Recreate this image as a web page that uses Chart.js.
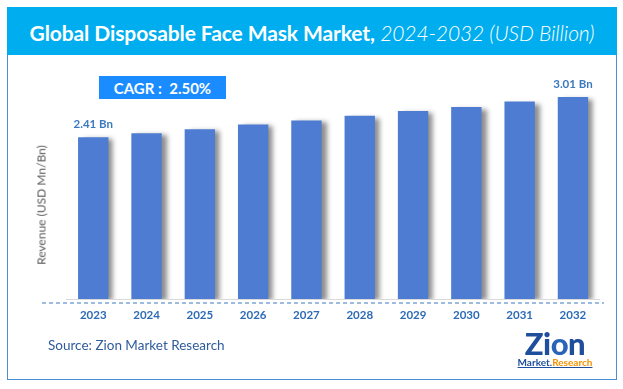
<!DOCTYPE html>
<html>
<head>
<meta charset="utf-8">
<script src="https://cdn.jsdelivr.net/npm/chart.js@4/dist/chart.umd.min.js"></script>
<style>
  body { margin: 0; background: #fff; font-family: Lato, "Open Sans", sans-serif; }
  #page { position: relative; width: 623px; height: 389px; overflow: hidden; }
  #frame { position: absolute; left: 7px; top: 7px; width: 610px; height: 373px; box-sizing: border-box; border: 1.5px solid #4a8fd6; }
  #title { position: absolute; left: 7px; top: 7px; width: 610px; height: 48px; background: #00aeef; color: #fff;
           text-align: center; font-size: 21px; line-height: 52px; white-space: nowrap; letter-spacing: -0.1px; }
  #title b { font-weight: 700; }
  #title i { font-weight: 300; }
  #cagr { position: absolute; left: 99px; top: 76px; width: 127px; height: 23px; background: #1a8cff; color: #fff;
          font-weight: 700; font-size: 15px; line-height: 24px; text-align: center; white-space: pre; }
  #ytitle { position: absolute; left: 41px; top: 205px; transform: translate(-50%, -50%) rotate(-90deg);
            font-size: 12px; color: #595959; white-space: nowrap; }
  #source { position: absolute; left: 48px; top: 337px; font-size: 13.5px; color: #2f5b9c; white-space: nowrap; }
  #logo { position: absolute; left: 516px; top: 329px; width: 78px; text-align: center; }
  #logo .zion { font-size: 31px; font-weight: 900; color: #1f4e9c; line-height: 28px; letter-spacing: -0.5px; }
  #logo .zion .o { color: #2a64b8; }
  #logo .mr { font-size: 10px; font-weight: 700; line-height: 11px; color: #1f4e9c; text-decoration: underline; }
  #logo .mr span { color: #f39200; }
  canvas { position: absolute; left: 0; top: 0; }
</style>
</head>
<body>
<div id="page">
  <canvas id="barChart" width="623" height="389"></canvas>
  <div id="frame"></div>
  <div id="title"><b>Global Disposable Face Mask Market,</b> <i>2024-2032 (USD Billion)</i></div>
  <div id="cagr">CAGR :  2.50%</div>
  <div id="ytitle">Revenue (USD Mn/Bn)</div>
  <div id="source">Source: Zion Market Research</div>
  <div id="logo">
    <div class="zion">Zi<span class="o">o</span>n</div>
    <div class="mr">Market.<span>Research</span></div>
  </div>
</div>
<script>
// values
let years = ["2023", "2024", "2025", "2026", "2027", "2028", "2029", "2030", "2031", "2032"];
let revenue = [2.41, 2.47, 2.53, 2.60, 2.66, 2.73, 2.80, 2.86, 2.94, 3.01];
let labelledBars = [0, 9];

// soft shadow to the right of every bar
let barShadow = {
    id: 'barShadow',
    beforeDatasetsDraw(chart) {
        let c = chart.ctx;
        c.save();
        c.shadowColor = 'rgba(0,0,0,0.45)';
        c.shadowOffsetX = 5;
        c.shadowOffsetY = 2;
        c.shadowBlur = 5;
    },
    afterDatasetsDraw(chart) {
        chart.ctx.restore();
    }
};

// "x.xx Bn" over first and last bar, dashed base line
let extras = {
    id: 'extras',
    afterDraw(chart) {
        let c = chart.ctx;
        let meta = chart.getDatasetMeta(0);
        c.save();
        c.font = 'bold 11.5px Lato, sans-serif';
        c.fillStyle = '#3a78c0';
        c.textAlign = 'center';
        c.textBaseline = 'middle';
        labelledBars.forEach(function (i) {
            let bar = meta.data[i];
            c.fillText(revenue[i].toFixed(2) + ' Bn', bar.x, bar.y - 13);
        });
        let y = chart.chartArea.bottom + 4;
        c.strokeStyle = '#3a78c0';
        c.lineWidth = 1;
        c.setLineDash([4, 3]);
        c.beginPath();
        c.moveTo(42, y);
        c.lineTo(604, y);
        c.stroke();
        c.restore();
    }
};

let ctx = document.getElementById("barChart").getContext("2d");
window.myBar = new Chart(ctx, {
    type: 'bar',
    data: {
        labels: years,
        datasets: [{
            data: revenue,
            backgroundColor: '#4d7cd2',
            borderWidth: 0,
            categoryPercentage: 1,
            barPercentage: 0.57
        }]
    },
    options: {
        responsive: false,
        animation: false,
        devicePixelRatio: 1,
        layout: {padding: {left: 66.6, right: 23.4, top: 64, bottom: 60}},
        plugins: {legend: {display: false}, tooltip: {enabled: false}},
        scales: {
            y: {display: false, min: 0, max: 3.5},
            x: {
                grid: {display: false, drawTicks: false},
                border: {display: true, color: '#d9d9d9', width: 1},
                ticks: {color: '#2d6bb5', font: {family: 'Lato', weight: 'bold', size: 11.5}, padding: 9},
                afterFit(scale) { scale.height = 30; }
            }
        }
    },
    plugins: [barShadow, extras]
});
</script>
</body>
</html>
